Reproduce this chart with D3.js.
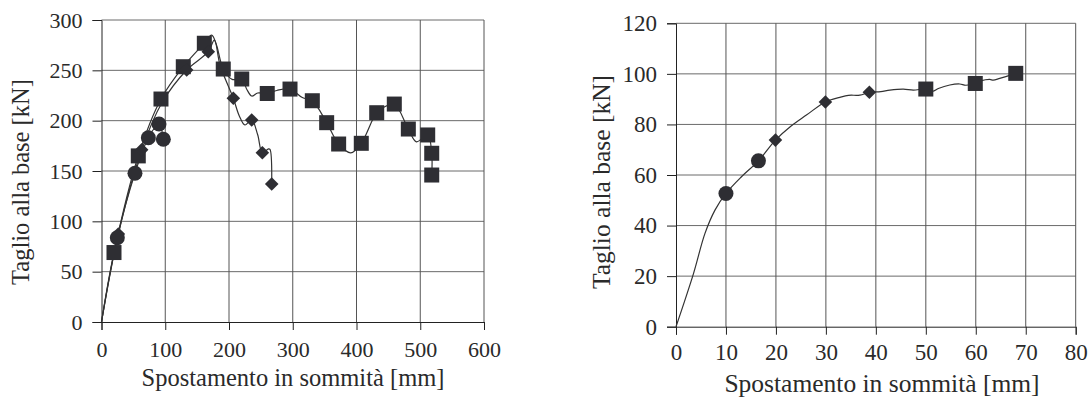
<!DOCTYPE html>
<html>
<head>
<meta charset="utf-8">
<script src="https://cdn.jsdelivr.net/npm/d3@7"></script>
<style>
  body { margin: 0; background: #fff; }
  svg { display: block; }
</style>
</head>
<body>
<svg id="chart" width="1088" height="399"></svg>
<script>
// ---- left chart data (displacement mm, shear kN) ----
const leftXTicks = [0, 100, 200, 300, 400, 500, 600];
const leftYTicks = [0, 50, 100, 150, 200, 250, 300];

const leftSquareLine = [[0,0],[19.6,69],[57.7,165],[93.3,221.5],[128.3,253.6],[161.3,276.9],[172.8,285],[180,276],[191,251.3],[205,241],[220,241.4],[228,231],[235.6,224.5],[245,227.5],[260,227],[275,230],[295.7,231.4],[315,223],[330.7,219.8],[353.2,198],[372,176.8],[391,168],[407.5,177.5],[431.7,207.9],[445,214],[459.3,216.5],[481.3,191.7],[494,179],[511.7,185.8],[518,167.6],[518,146]];
const leftSquares = [[19.6,69],[57.7,165],[93.3,221.5],[128.3,253.6],[161.3,276.9],[191,251.3],[220,241.4],[260,227],[295.7,231.4],[330.7,219.8],[353.2,198],[372,176.8],[407.5,177.5],[431.7,207.9],[459.3,216.5],[481.3,191.7],[511.7,185.8],[518,167.6],[518,146]];

const leftDiamondLine = [[0,0],[26.4,87.4],[63,171],[95,218],[133.6,250.3],[167.5,268.5],[177,280],[186,255],[206.8,222.2],[216,205],[225,195.7],[235.6,200.7],[245,186],[252.3,168.2],[262,172],[264.3,171.5],[267,137]];
const leftDiamonds = [[26.4,87.4],[63,171],[133.6,250.3],[167.5,268.5],[206.8,222.2],[235.6,200.7],[252.3,168.2],[267,137]];

const leftCircleLine = [[0,0],[24.8,83.7],[52.5,147.7],[73.5,183],[90.2,196.7],[97,181.5]];
const leftCircles = [[24.8,83.7],[52.5,147.7],[73.5,183],[90.2,196.7],[97,181.5]];

// ---- right chart data ----
const rightXTicks = [0, 10, 20, 30, 40, 50, 60, 70, 80];
const rightYTicks = [0, 20, 40, 60, 80, 100, 120];

const rightLine = [[0,0],[3.5,21],[5.8,36.9],[7.8,46.1],[10,52.7],[13.1,59.3],[16.5,65.6],[19.9,73.8],[22.8,79],[26.1,83.7],[29.9,88.9],[32.8,90.7],[34.5,91.5],[36.8,91.6],[38.7,92.7],[41,93],[42.8,93.6],[45.5,94],[47.5,93.6],[50,94],[51.5,93.2],[52.5,94.2],[54.8,95.6],[56.8,96],[58,95.5],[59.9,96.2],[61,97.2],[62.8,97.8],[63.5,97.5],[64.8,98.2],[68,100.2]];
const rightCircles = [[10,52.7],[16.5,65.6]];
const rightDiamonds = [[19.9,73.8],[29.9,88.9],[38.7,92.7]];
const rightSquares = [[50,94],[59.9,96.2],[68,100.2]];

const yTitle = 'Taglio alla base [kN]';
const xTitle = 'Spostamento in sommità [mm]';

const svg = d3.select('#chart');
const markFill = '#2e2e33';
const serif = "'Liberation Serif', 'Times New Roman', Tinos, 'DejaVu Serif', serif";

/*
  Draw one chart panel
  cfg: px box, domains, ticks, series, font sizes
*/
function drawPanel(cfg) {
    const g = svg.append('g');
    const x = d3.scaleLinear().domain(cfg.xDomain).range([cfg.left, cfg.right]);
    const y = d3.scaleLinear().domain(cfg.yDomain).range([cfg.bottom, cfg.top]);

    // grid
    g.selectAll('.hgrid').data(cfg.yTicks.slice(1)).enter().append('line')
        .attr('x1', cfg.left).attr('x2', cfg.right)
        .attr('y1', d => y(d)).attr('y2', d => y(d))
        .attr('stroke', '#6a6a6a').attr('stroke-width', 1);
    g.selectAll('.vgrid').data(cfg.xTicks.slice(1)).enter().append('line')
        .attr('x1', d => x(d)).attr('x2', d => x(d))
        .attr('y1', cfg.top).attr('y2', cfg.bottom)
        .attr('stroke', '#555').attr('stroke-width', 1);

    // axes
    const yAxis = d3.axisLeft(y).tickValues(cfg.yTicks).tickSize(9).tickPadding(cfg.yPad).tickFormat(d3.format('d'));
    const xAxis = d3.axisBottom(x).tickValues(cfg.xTicks).tickSize(8).tickPadding(cfg.xPad).tickFormat(d3.format('d'));
    const ya = g.append('g').attr('transform', `translate(${cfg.left},0)`).call(yAxis);
    const xa = g.append('g').attr('transform', `translate(0,${cfg.bottom})`).call(xAxis);
    [ya, xa].forEach(a => {
        a.attr('font-family', null).attr('font-size', null);
        a.select('.domain').attr('stroke', '#222');
        a.selectAll('.tick line').attr('stroke', '#222');
        a.selectAll('text').style('font-size', cfg.font + 'px').style('font-family', serif).attr('fill', '#2a2a2a');
    });

    // titles
    g.append('text')
        .attr('x', cfg.xTitleX).attr('y', cfg.xTitleY)
        .attr('text-anchor', 'middle')
        .style('font-size', cfg.titleFont + 'px').style('font-family', serif).attr('fill', '#2a2a2a')
        .text(xTitle);
    g.append('text')
        .attr('transform', `translate(${cfg.yTitleX},${cfg.yTitleY}) rotate(-90)`)
        .attr('text-anchor', 'middle')
        .style('font-size', cfg.titleFont + 'px').style('font-family', serif).attr('fill', '#2a2a2a')
        .text(yTitle);

    // lines
    const line = d3.line().x(d => x(d[0])).y(d => y(d[1])).curve(d3.curveCatmullRom.alpha(0.5));
    cfg.lines.forEach(pts => {
        g.append('path').datum(pts).attr('d', line)
            .attr('fill', 'none').attr('stroke', '#333').attr('stroke-width', 1.2);
    });

    // markers
    g.selectAll('.sq').data(cfg.squares).enter().append('rect')
        .attr('x', d => x(d[0]) - 7.5).attr('y', d => y(d[1]) - 7.5)
        .attr('width', 15).attr('height', 15).attr('fill', markFill);
    g.selectAll('.di').data(cfg.diamonds).enter().append('path')
        .attr('d', d3.symbol().type(d3.symbolSquare).size(92))
        .attr('transform', d => `translate(${x(d[0])},${y(d[1])}) rotate(45)`)
        .attr('fill', markFill);
    g.selectAll('.ci').data(cfg.circles).enter().append('circle')
        .attr('cx', d => x(d[0])).attr('cy', d => y(d[1])).attr('r', 7.5)
        .attr('fill', markFill);
}

drawPanel({
    left: 101.5, right: 484, top: 20, bottom: 322,
    xDomain: [0, 600], yDomain: [0, 300],
    xTicks: leftXTicks, yTicks: leftYTicks,
    font: 22, titleFont: 24.5, xPad: 11, yPad: 10,
    xTitleX: 293, xTitleY: 386, yTitleX: 29, yTitleY: 182,
    lines: [leftSquareLine, leftDiamondLine, leftCircleLine],
    squares: leftSquares, diamonds: leftDiamonds, circles: leftCircles
});

drawPanel({
    left: 676, right: 1075.7, top: 23.3, bottom: 326.7,
    xDomain: [0, 80], yDomain: [0, 120],
    xTicks: rightXTicks, yTicks: rightYTicks,
    font: 23, titleFont: 25.5, xPad: 9, yPad: 10,
    xTitleX: 882, xTitleY: 392, yTitleX: 610, yTitleY: 182,
    lines: [rightLine],
    squares: rightSquares, diamonds: rightDiamonds, circles: rightCircles
});
</script>
</body>
</html>
